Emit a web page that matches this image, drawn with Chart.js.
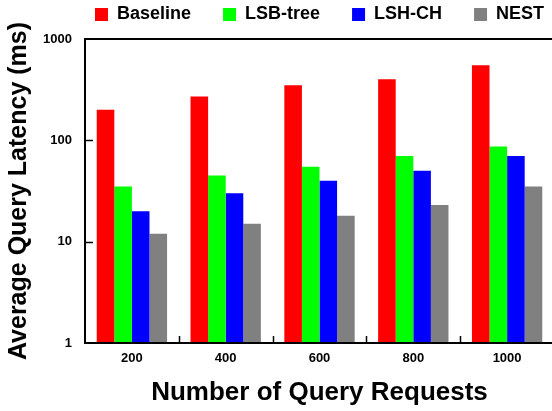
<!DOCTYPE html>
<html>
<head>
<meta charset="utf-8">
<script src="https://cdn.jsdelivr.net/npm/chart.js@4/dist/chart.umd.min.js"></script>
<style>
  html, body { margin: 0; padding: 0; background: #fff; }
  #wrap { width: 552px; height: 411px; overflow: hidden; position: relative; }
  canvas { display: block; }
</style>
</head>
<body>
<div id="wrap"><canvas id="c" width="556" height="411"></canvas></div>
<script>
// Query request counts (x categories)
const requests = ['200', '400', '600', '800', '1000'];

// Average query latency in ms for each method
const baseline = [200, 270, 350, 400, 550];
const lsbTree  = [35, 45, 55, 70, 87];
const lshCh    = [20, 30, 40, 50, 70];
const nest     = [12, 15, 18, 23, 35];

// Labelled decades on the logarithmic y axis
const yTicks = [1, 10, 100, 1000];

const FONT = "'Liberation Sans', Arial, sans-serif";

// Box around the plot plus short inward tick marks
const frameAndTicks = {
  id: 'frameAndTicks',
  afterDatasetsDraw(chart) {
    const { ctx, chartArea: a, scales: { x, y } } = chart;
    ctx.save();
    ctx.strokeStyle = '#000';
    ctx.lineWidth = 1.5;
    // y tick marks at the inner decades
    yTicks.slice(1, -1).forEach(v => {
      const py = Math.round(y.getPixelForValue(v)) + 0.5;
      ctx.beginPath();
      ctx.moveTo(a.left, py);
      ctx.lineTo(a.left + 8, py);
      ctx.stroke();
    });
    // x tick marks between category groups
    for (let i = 0; i < requests.length - 1; i++) {
      const px = Math.round((x.getPixelForValue(i) + x.getPixelForValue(i + 1)) / 2) + 0.5;
      ctx.beginPath();
      ctx.moveTo(px, a.bottom);
      ctx.lineTo(px, a.bottom - 7);
      ctx.stroke();
    }
    ctx.lineWidth = 2;
    ctx.strokeRect(a.left, a.top, a.right - a.left, a.bottom - a.top);
    ctx.restore();
  }
};

// Place the legend row above the plot, starting just right of the y axis
const legendPlacement = {
  id: 'legendPlacement',
  afterLayout(chart) {
    const lg = chart.legend;
    const pad = lg.options.labels.padding;
    const dx = chart.chartArea.left + 10 - (lg.left + pad);
    const dy = 14.5 - (lg.top + pad + 9);
    lg.left += dx;
    lg.right += dx;
    lg.top += dy;
  }
};

new Chart(document.getElementById('c'), {
  type: 'bar',
  data: {
    labels: requests,
    datasets: [
      { label: 'Baseline', data: baseline, backgroundColor: '#ff0000' },
      { label: 'LSB-tree', data: lsbTree,  backgroundColor: '#00ff00' },
      { label: 'LSH-CH',   data: lshCh,    backgroundColor: '#0000ff' },
      { label: 'NEST',     data: nest,     backgroundColor: '#808080' }
    ]
  },
  options: {
    responsive: false,
    animation: false,
    devicePixelRatio: 1,
    layout: { padding: { left: 0, right: 2, top: 0, bottom: 0 } },
    datasets: { bar: { categoryPercentage: 0.75, barPercentage: 1.0, borderWidth: 0 } },
    plugins: {
      tooltip: { enabled: false },
      legend: {
        position: 'top',
        align: 'start',
        maxHeight: 39,
        labels: {
          boxWidth: 13,
          boxHeight: 13,
          padding: 32,
          color: '#000',
          font: { family: FONT, size: 18, weight: 'bold' }
        }
      }
    },
    scales: {
      x: {
        grid: { display: false, drawTicks: false },
        border: { display: false },
        ticks: { color: '#000', padding: 8, font: { family: FONT, size: 13, weight: 'bold' } },
        title: {
          display: true,
          text: 'Number of Query Requests',
          color: '#000',
          padding: { top: 0, bottom: 3 },
          font: { family: FONT, size: 26, weight: 'bold' }
        },
        afterFit(s) { s.height = 68; }
      },
      y: {
        type: 'logarithmic',
        min: 1,
        max: 1000,
        grid: { display: false, drawTicks: false },
        border: { display: false },
        afterBuildTicks(s) { s.ticks = yTicks.map(v => ({ value: v })); },
        ticks: {
          color: '#000',
          padding: 13,
          font: { family: FONT, size: 13, weight: 'bold' },
          callback: v => String(v)
        },
        title: {
          display: true,
          text: 'Average Query Latency (ms)',
          color: '#000',
          padding: { top: 4, bottom: 0 },
          font: { family: FONT, size: 25, weight: 'bold' }
        },
        afterFit(s) { s.width = 85; }
      }
    }
  },
  plugins: [frameAndTicks, legendPlacement]
});
</script>
</body>
</html>
